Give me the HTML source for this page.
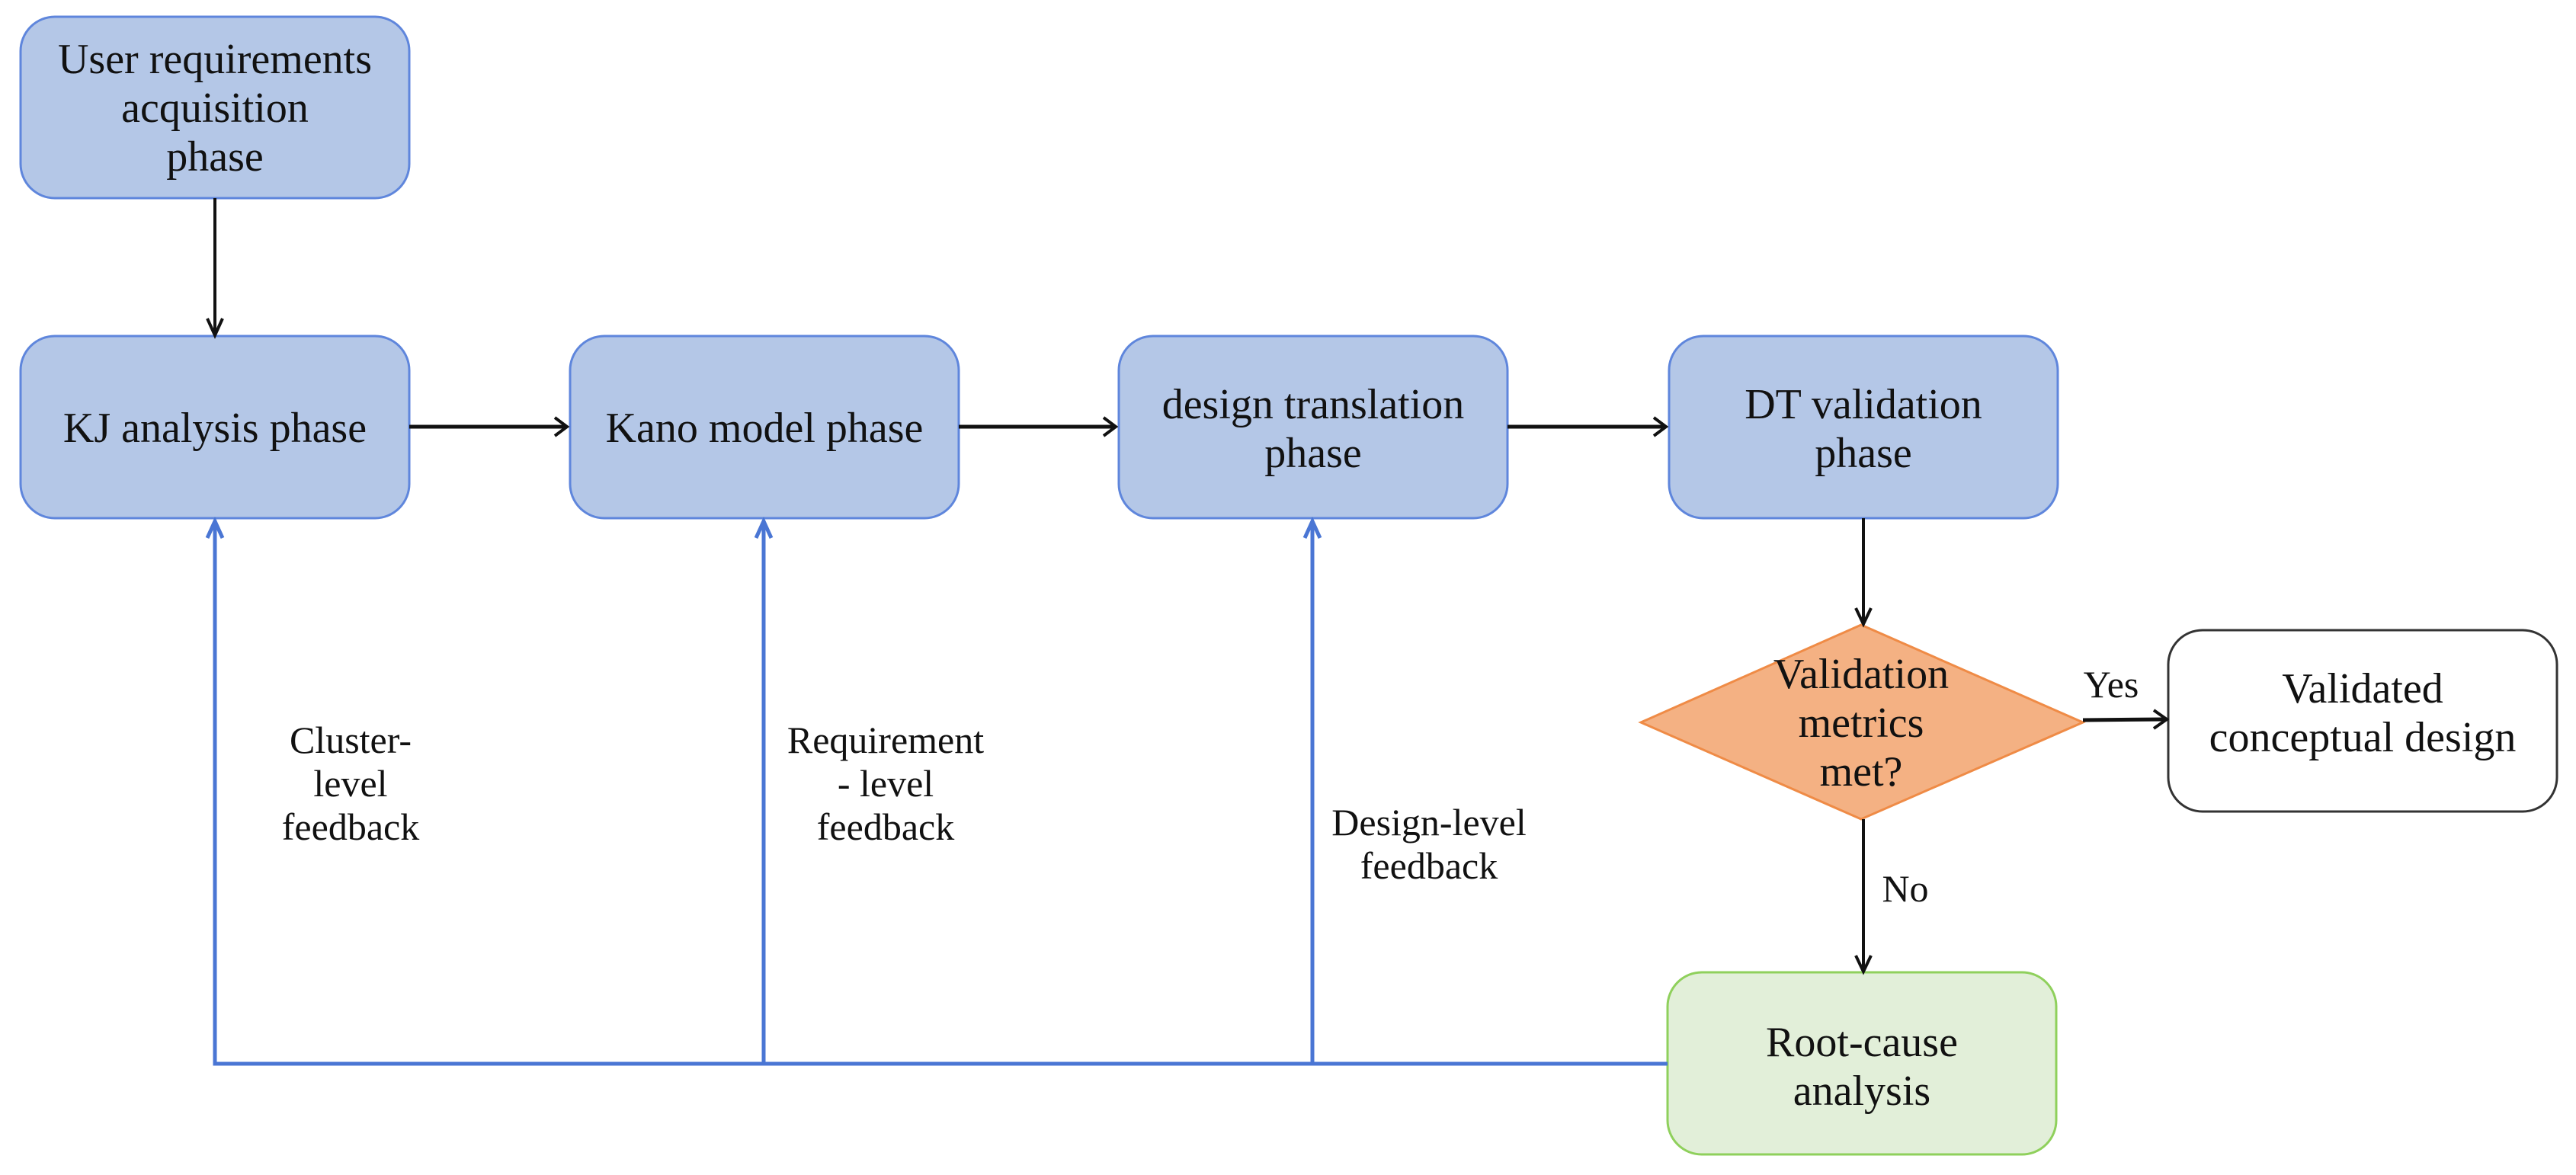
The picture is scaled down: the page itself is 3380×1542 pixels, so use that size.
<!DOCTYPE html>
<html><head><meta charset="utf-8"><style>
html,body{margin:0;padding:0;background:#fff}
svg{display:block}
text{font-family:"Liberation Serif",serif;fill:#111}
.b{font-size:56px}
.l{font-size:50px}
</style></head><body>
<svg width="3380" height="1542" viewBox="0 0 3380 1542" xmlns="http://www.w3.org/2000/svg">
<defs>
<marker id="ak" markerWidth="10" markerHeight="10" refX="9" refY="5" orient="auto" markerUnits="userSpaceOnUse" viewBox="0 0 10 10">
</marker>
</defs>
<!-- boxes -->
<g fill="#b4c7e7" stroke="#5f86dc" stroke-width="3">
<rect x="27" y="22" width="510" height="238" rx="45"/>
<rect x="27" y="441" width="510" height="239" rx="45"/>
<rect x="748" y="441" width="510" height="239" rx="45"/>
<rect x="1468" y="441" width="510" height="239" rx="45"/>
<rect x="2190" y="441" width="510" height="239" rx="45"/>
</g>
<rect x="2188" y="1276" width="510" height="239" rx="45" fill="#e2efd9" stroke="#8fd05c" stroke-width="3"/>
<rect x="2845" y="827" width="510" height="238" rx="45" fill="#fff" stroke="#333" stroke-width="3"/>
<polygon points="2442,820 2733,948 2442,1075 2153,948" fill="#f4b183" stroke="#ef8b46" stroke-width="3"/>

<!-- black arrows -->
<g stroke="#111" stroke-width="4" fill="none">
<line x1="282" y1="260" x2="282" y2="436"/>
<line x1="537" y1="560" x2="742" y2="560" stroke-width="5"/>
<line x1="1258" y1="560" x2="1462" y2="560" stroke-width="5"/>
<line x1="1978" y1="560" x2="2184" y2="560" stroke-width="5"/>
<line x1="2445" y1="680" x2="2445" y2="815"/>
<line x1="2733" y1="945" x2="2840" y2="944" stroke-width="5"/>
<line x1="2445" y1="1075" x2="2445" y2="1271"/>
</g>
<g fill="none" stroke="#111" stroke-width="4" stroke-linejoin="miter">
<polyline points="272,418 282,440 292,418"/>
<polyline points="728,548 744,560 728,572"/>
<polyline points="1448,548 1464,560 1448,572"/>
<polyline points="2170,548 2186,560 2170,572"/>
<polyline points="2435,798 2445,819 2455,798"/>
<polyline points="2826,932 2843,944 2826,956"/>
<polyline points="2435,1254 2445,1275 2455,1254"/>
</g>

<!-- blue feedback -->
<g stroke="#4a76d4" stroke-width="5" fill="none">
<polyline points="2188,1396 282,1396 282,684"/>
<line x1="1002" y1="1396" x2="1002" y2="684"/>
<line x1="1722" y1="1396" x2="1722" y2="684"/>
<polyline points="272,706 282,684 292,706"/>
<polyline points="992,706 1002,684 1012,706"/>
<polyline points="1712,706 1722,684 1732,706"/>
</g>

<!-- text -->
<g class="b" text-anchor="middle">
<text x="282" y="96">User requirements</text>
<text x="282" y="160">acquisition</text>
<text x="282" y="224">phase</text>
<text x="282" y="580">KJ analysis phase</text>
<text x="1003" y="580">Kano model phase</text>
<text x="1723" y="549">design translation</text>
<text x="1723" y="613">phase</text>
<text x="2445" y="549">DT validation</text>
<text x="2445" y="613">phase</text>
<text x="2442" y="903">Validation</text>
<text x="2442" y="967">metrics</text>
<text x="2442" y="1031">met?</text>
<text x="3100" y="922">Validated</text>
<text x="3100" y="986">conceptual design</text>
<text x="2443" y="1386">Root-cause</text>
<text x="2443" y="1450">analysis</text>
</g>
<g class="l" text-anchor="middle">
<text x="460" y="988">Cluster-</text>
<text x="460" y="1045">level</text>
<text x="460" y="1102">feedback</text>
<text x="1162" y="988">Requirement</text>
<text x="1162" y="1045">- level</text>
<text x="1162" y="1102">feedback</text>
<text x="1875" y="1096">Design-level</text>
<text x="1875" y="1153">feedback</text>
<text x="2770" y="915">Yes</text>
<text x="2500" y="1183">No</text>
</g>
</svg>
</body></html>
